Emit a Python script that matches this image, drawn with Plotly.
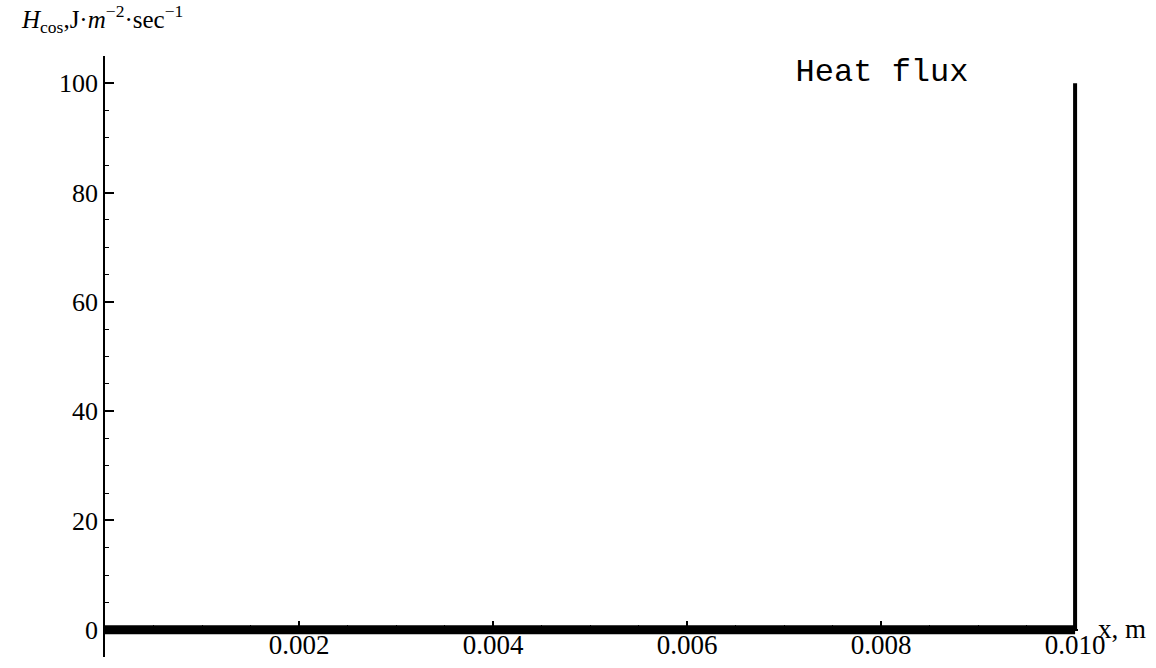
import plotly.graph_objects as go

# Heat flux profile along the slab: zero through the bulk, 100 at the boundary x = 0.010 m
x_m = [0.0, 0.010, 0.010]
heat_flux = [0.0, 0.0, 100.0]

x_ticks = [0.002, 0.004, 0.006, 0.008, 0.010]
x_tick_text = ["0.002", "0.004", "0.006", "0.008", "0.010"]
y_ticks = [0, 20, 40, 60, 80, 100]

Y_MIN, Y_MAX = -5, 105
X_MIN, X_MAX = 0.0, 0.01003

serif = "Liberation Serif, Times New Roman, serif"

fig = go.Figure()

# flat part of the profile (drawn heavy)
fig.add_trace(go.Scatter(
    x=x_m[:2], y=heat_flux[:2], mode="lines",
    line=dict(color="black", width=9), showlegend=False, hoverinfo="skip",
))
# jump at the boundary
fig.add_trace(go.Scatter(
    x=x_m[1:], y=heat_flux[1:], mode="lines",
    line=dict(color="black", width=4), showlegend=False, hoverinfo="skip",
))

fig.update_layout(
    width=1156, height=668,
    margin=dict(l=105, r=78, t=56, b=11, autoexpand=False),
    paper_bgcolor="white", plot_bgcolor="white",
    title=dict(
        text="Heat flux",
        font=dict(family="Liberation Mono, Courier New, monospace", size=32, color="black"),
        x=0.763, y=0.895, xref="container", yref="container",
        xanchor="center", yanchor="middle",
    ),
    xaxis=dict(
        range=[X_MIN, X_MAX], automargin=False,
        anchor="free", position=(0 - Y_MIN) / (Y_MAX - Y_MIN),
        showline=True, linecolor="black", linewidth=1.5,
        showgrid=False, zeroline=False,
        tickmode="array", tickvals=x_ticks, ticktext=x_tick_text,
        ticks="inside", ticklen=8, tickwidth=1.5, tickcolor="black",
        ticklabelstandoff=-9,
        tickfont=dict(family=serif, size=27, color="black"),
        minor=dict(dtick=0.0005, tick0=0, ticks="inside", ticklen=4,
                   tickwidth=1, tickcolor="black", showgrid=False),
    ),
    yaxis=dict(
        range=[Y_MIN, Y_MAX], automargin=False,
        showline=True, linecolor="black", linewidth=1.5,
        showgrid=False, zeroline=False,
        tickmode="array", tickvals=y_ticks,
        ticks="inside", ticklen=9, tickwidth=1.5, tickcolor="black",
        tickfont=dict(family=serif, size=26, color="black"),
        minor=dict(dtick=5, tick0=0, ticks="inside", ticklen=4,
                   tickwidth=1, tickcolor="black", showgrid=False),
    ),
    annotations=[
        dict(
            text="<i>H</i><sub>cos</sub>,J·<i>m</i><sup>−2</sup>·sec<sup>−1</sup>",
            xref="paper", yref="paper", x=-0.003, y=1.061,
            xanchor="center", yanchor="middle", showarrow=False,
            font=dict(family=serif, size=25, color="black"),
        ),
        dict(
            text="x, m",
            xref="paper", yref="paper", x=1.045, y=0.047,
            xanchor="center", yanchor="middle", showarrow=False,
            font=dict(family=serif, size=27, color="black"),
        ),
    ],
)

fig.write_html("out.html")
